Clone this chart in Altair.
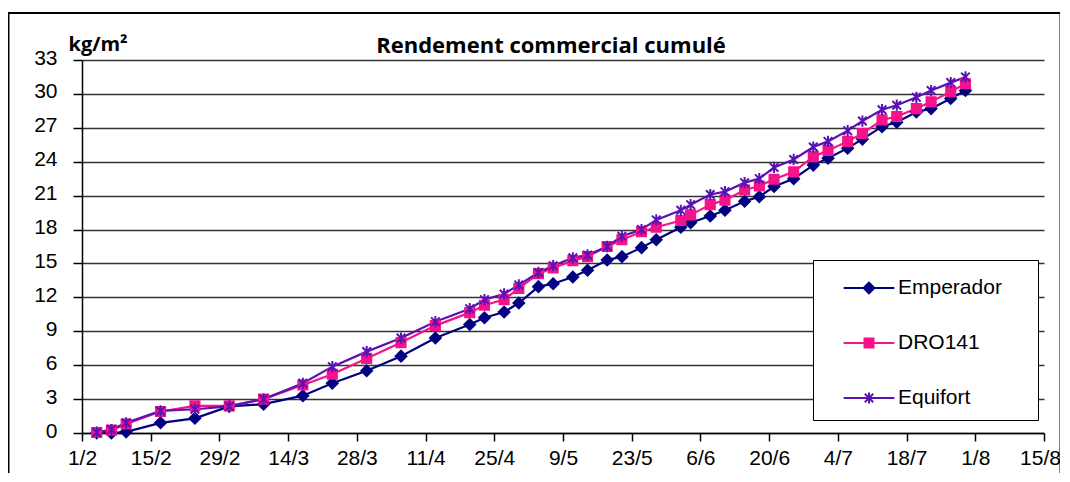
import altair as alt
import pandas as pd

series_names = ["Emperador", "DRO141", "Equifort"]
series_colors = ["#000080", "#F5128A", "#5A12B4"]

dates = ["2008-02-04", "2008-02-07", "2008-02-10", "2008-02-17", "2008-02-24",
         "2008-03-02", "2008-03-09", "2008-03-17", "2008-03-23", "2008-03-30",
         "2008-04-06", "2008-04-13", "2008-04-20", "2008-04-23", "2008-04-27",
         "2008-04-30", "2008-05-04", "2008-05-07", "2008-05-11", "2008-05-14",
         "2008-05-18", "2008-05-21", "2008-05-25", "2008-05-28", "2008-06-02",
         "2008-06-04", "2008-06-08", "2008-06-11", "2008-06-15", "2008-06-18",
         "2008-06-21", "2008-06-25", "2008-06-29", "2008-07-02", "2008-07-06",
         "2008-07-09", "2008-07-13", "2008-07-16", "2008-07-20", "2008-07-23",
         "2008-07-27", "2008-07-30"]

emperador = [0, 0, 0.1, 0.9, 1.3, 2.35, 2.55, 3.3, 4.4, 5.5,
             6.8, 8.4, 9.6, 10.2, 10.7, 11.5, 12.95, 13.2, 13.8, 14.4,
             15.3, 15.6, 16.4, 17.1, 18.2, 18.6, 19.2, 19.7, 20.5, 20.9,
             21.8, 22.5, 23.7, 24.3, 25.2, 26.0, 27.1, 27.5, 28.4, 28.7,
             29.6, 30.3]
dro141 = [0.05, 0.25, 0.8, 1.9, 2.4, 2.4, 3.0, 4.25, 5.2, 6.6,
          8.0, 9.5, 10.65, 11.3, 11.8, 12.8, 14.1, 14.6, 15.25, 15.6,
          16.5, 17.1, 17.8, 18.2, 18.8, 19.3, 20.2, 20.6, 21.5, 21.85,
          22.45, 23.1, 24.45, 25.0, 25.8, 26.5, 27.7, 28.0, 28.7, 29.3,
          30.2, 30.9]
equifort = [0.05, 0.3, 0.9, 1.95, 2.1, 2.35, 3.0, 4.4, 5.87, 7.2,
            8.4, 9.85, 11.0, 11.8, 12.3, 13.1, 14.2, 14.8, 15.5, 15.75,
            16.5, 17.4, 18.0, 18.85, 19.7, 20.2, 21.1, 21.35, 22.15, 22.5,
            23.5, 24.2, 25.3, 25.8, 26.75, 27.6, 28.6, 29.0, 29.7, 30.3,
            31.0, 31.5]

tick_dates = ["2008-02-01", "2008-02-15", "2008-02-29", "2008-03-14", "2008-03-28",
              "2008-04-11", "2008-04-25", "2008-05-09", "2008-05-23", "2008-06-06",
              "2008-06-20", "2008-07-04", "2008-07-18", "2008-08-01", "2008-08-15"]
y_ticks = [0, 3, 6, 9, 12, 15, 18, 21, 24, 27, 30, 33]

title_text = "Rendement commercial cumulé"
y_title = "kg/m²"

# ---- build table ----
rows = []
for name, vals in zip(series_names, [emperador, dro141, equifort]):
    for d, v in zip(dates, vals):
        rows.append({"date": d, "value": v, "series": name})
df = pd.DataFrame(rows)

def ms(s):
    return int(pd.Timestamp(s).value // 10**6)

tick_ms = [ms(s) for s in tick_dates]

# marker shapes (unit box -1..1)
diamond = "M0,-1L1,0L0,1L-1,0Z"
square = "M-0.85,-0.85L0.85,-0.85L0.85,0.85L-0.85,0.85Z"
asterisk = "M-0.8,-0.8L0.8,0.8M-0.8,0.8L0.8,-0.8M0,-1.05L0,1.05"

# legend symbols: line + marker
lg_line = "M-1.69,0L1.69,0"
lg_diamond = lg_line + "M0,-0.36L0.36,0L0,0.36L-0.36,0Z"
lg_square = lg_line + "M-0.3,-0.3L0.3,-0.3L0.3,0.3L-0.3,0.3Z"
lg_asterisk = lg_line + "M-0.28,-0.28L0.28,0.28M-0.28,0.28L0.28,-0.28M0,-0.36L0,0.36"

font = "Liberation Sans"
bold_font = "Open Sans"

x_enc = alt.X(
    "date:T",
    scale=alt.Scale(type="utc", domain=[tick_ms[0], tick_ms[-1]]),
    axis=alt.Axis(
        values=tick_ms,
        labelExpr="utcFormat(datum.value, '%-d/%-m')",
        labelFont=font, labelFontSize=21, labelColor="black",
        tickSize=8, tickColor="black", tickWidth=1.5,
        domainColor="black", domainWidth=1.5,
        grid=False, title=None, labelPadding=6,
        labelFlush=False, labelOverlap=False,
        labelOffset={"condition": {"test": f"datum.value >= {tick_ms[-1]}", "value": -4},
                     "value": 0},
    ),
)
y_enc = alt.Y(
    "value:Q",
    scale=alt.Scale(domain=[0, 33], nice=False),
    axis=alt.Axis(
        values=y_ticks,
        title=y_title, titleAngle=0, titleAlign="left", titleBaseline="alphabetic",
        titleX=-14, titleY=-10, titleFont=bold_font, titleFontSize=20,
        titleFontWeight="bold", titleColor="black",
        labelFont=font, labelFontSize=21, labelColor="black",
        tickSize=9, tickColor="black", tickWidth=1.5,
        domainColor="black", domainWidth=1.5,
        grid=True, gridColor="#333333", gridWidth=1.5,
        labelPadding=16, labelOffset=-2,
    ),
)

def cscale():
    return alt.Scale(domain=series_names, range=series_colors)

frame = alt.Chart(pd.DataFrame({"k": [0]})).mark_rect(
    fillOpacity=0, stroke="black", strokeWidth=2
).encode(
    x=alt.value(-73.5), x2=alt.value(978.5), y=alt.value(-47), y2=alt.value(460)
)

lines = alt.Chart(df).mark_line(strokeWidth=2.2).encode(
    x=x_enc, y=y_enc,
    stroke=alt.Stroke("series:N", scale=cscale(), legend=None),
    detail="series:N",
)

points = alt.Chart(df).mark_point(filled=True, size=115, strokeWidth=2, opacity=1).encode(
    x=x_enc, y=y_enc,
    color=alt.Color("series:N", scale=cscale(), legend=None),
    stroke=alt.Stroke("series:N", scale=cscale(), legend=None),
    shape=alt.Shape("series:N", scale=alt.Scale(domain=series_names,
                                                 range=[diamond, square, asterisk]),
                    legend=None),
)

legend_def = dict(
    orient="none", legendX=731, legendY=200, title=None,
    padding=12, strokeColor="black", fillColor="white",
    symbolSize=900, symbolOffset=28, labelOffset=13, rowPadding=29,
    symbolStrokeWidth=2,
    labelFont=font, labelFontSize=21, labelColor="black",
    labelExpr="datum.label + '\u00a0\u00a0\u00a0\u00a0\u200b'",
)

legend_layer = alt.Chart(df).mark_point(filled=True, strokeWidth=2, opacity=1).encode(
    color=alt.Color("series:N", scale=cscale(), legend=alt.Legend(**legend_def)),
    stroke=alt.Stroke("series:N", scale=cscale(), legend=alt.Legend(**legend_def)),
    shape=alt.Shape("series:N", scale=alt.Scale(domain=series_names,
                                                 range=[lg_diamond, lg_square, lg_asterisk]),
                    legend=alt.Legend(**legend_def)),
).transform_filter("datum.value < -100")

chart = alt.layer(frame, lines, points, legend_layer).resolve_scale(
    color="independent", stroke="independent", shape="independent"
).properties(
    width=962, height=373,
    autosize=alt.AutoSizeParams(type="none"),
    padding={"left": 74, "top": 52, "right": 16, "bottom": 40},
    title=alt.TitleParams(
        title_text, font=bold_font, fontSize=22, fontWeight="bold", color="black",
        anchor="middle", dx=-12, offset=-46,
    ),
).configure_view(stroke=None)

chart.save("out.html", embed_options={"renderer": "svg", "actions": False})
